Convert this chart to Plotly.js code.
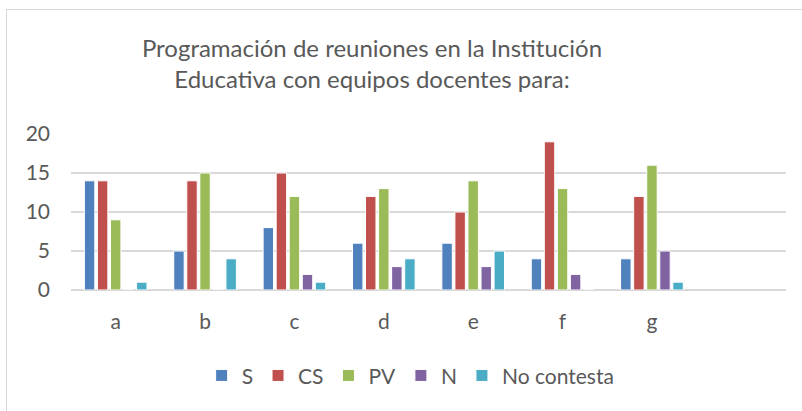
<!DOCTYPE html>
<html><head><meta charset="utf-8">
<script src="https://cdn.plot.ly/plotly-3.0.1.min.js"></script>
<style>
html,body{margin:0;padding:0;background:#fff;}
#wrap{position:relative;width:802px;height:411px;}
#chart{position:absolute;left:0;top:0;width:802px;height:411px;}
#frame{position:absolute;left:6px;top:9px;width:800px;height:410px;border-left:1.5px solid #D9D9D9;border-top:1.5px solid #D9D9D9;pointer-events:none;}
</style></head>
<body><div id="wrap"><div id="chart"></div><div id="frame"></div></div>
<script>
const categories = ["a","b","c","d","e","f","g"];
const seriesNames = ["S","CS","PV","N","No contesta"];
const S  = [14, 5, 8, 6, 6, 4, 4];
const CS = [14,14,15,12,10,19,12];
const PV = [ 9,15,12,13,14,13,16];
const N  = [ 0, 0, 2, 3, 3, 2, 5];
const NC = [ 1, 4, 1, 4, 5, 0, 1];
const colors = ["#4F81BD","#C0504D","#9BBB59","#8064A2","#4BACC6"];
const values = [S, CS, PV, N, NC];
const xpos = categories.map((c,i)=>i);
const textColor = "#595959";
const fontFam = "Lato, 'Open Sans', sans-serif";

const traces = values.map((v,k)=>({
  type:"bar", name:seriesNames[k], x:xpos, y:v,
  marker:{color:colors[k], line:{color:"#ffffff", width:1}},
  hoverinfo:"skip"
}));

const layout = {
  width:802, height:411,
  margin:{l:71, r:16, t:134, b:121},
  paper_bgcolor:"#fff", plot_bgcolor:"#fff",
  font:{family:fontFam, color:textColor, size:21},
  title:{text:"Programación de reuniones en la Institución<br>Educativa con equipos docentes para:",
    font:{family:fontFam, size:24, color:textColor},
    x:0.421, xanchor:"center", xref:"paper",
    y:0.862, yanchor:"top", yref:"container"},
  barmode:"group", bargap:0.27, bargroupgap:0.2,
  xaxis:{range:[-0.5, 7.5], tickvals:xpos, ticktext:categories,
    showgrid:false, zeroline:false, showline:false, ticks:"",
    ticklabelstandoff:17, tickfont:{size:21, color:textColor}},
  yaxis:{range:[0,20], dtick:5, tick0:0, showgrid:true, gridcolor:"#D9D9D9", gridwidth:1.5,
    zeroline:true, zerolinecolor:"#D9D9D9", zerolinewidth:1.5, showline:false, ticks:"",
    ticklabelstandoff:20, tickfont:{size:21, color:textColor}},
  showlegend:true,
  legend:{orientation:"h", x:0.475, xanchor:"center", y:-0.55, yanchor:"middle",
    font:{size:21, color:textColor}, itemwidth:30, tracegroupgap:0},
};
Plotly.newPlot("chart", traces, layout, {displayModeBar:false, staticPlot:true});
</script></body></html>
